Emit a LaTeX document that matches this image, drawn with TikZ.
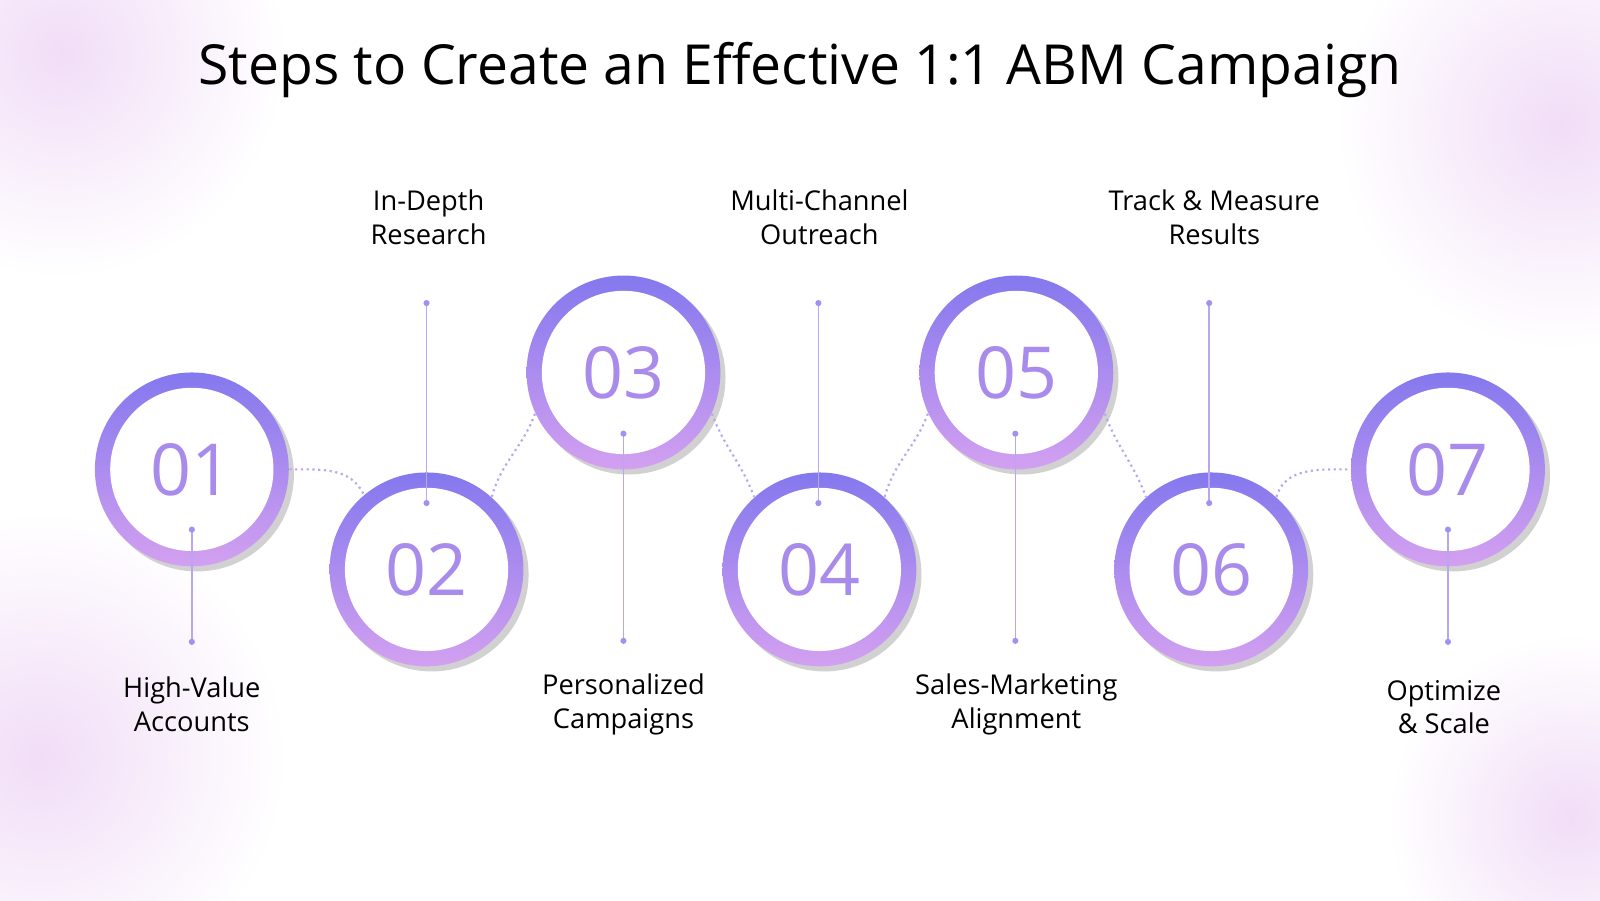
\documentclass[tikz,border=0pt]{standalone}
\usepackage{fontspec}
\setmainfont{Open Sans}
\usetikzlibrary{positioning}
\definecolor{ringtop}{HTML}{8478EE}
\definecolor{ringbot}{HTML}{D3A0F0}
\definecolor{numcol}{HTML}{A98BEB}
\definecolor{linecol}{HTML}{B9A6F2}
\definecolor{blob}{HTML}{F1DDF7}
\tikzset{
  label text/.style={align=center,font=\fontsize{7.6}{9.4}\selectfont},
  num/.style={circle,minimum size=1.9cm,inner sep=0pt,text=numcol,font=\fontsize{20}{20}\selectfont},
  stem/.style={linecol,line width=0.4pt},
  link/.style={linecol,densely dotted,line width=0.6pt}
}
\newcommand\ringat[3]{%
  \fill[black!18] (#1+0.05,#2-0.05) circle (0.95);
  \shade[top color=ringtop,bottom color=ringbot] (#1,#2) circle (0.95);
  \fill[white] (#1,#2) circle (0.8);
  \node[num] (#3) at (#1,#2) {#3};
}
\begin{document}
\begin{tikzpicture}
\useasboundingbox (0,0) rectangle (15.68,8.82);
\fill[white] (0,0) rectangle (15.68,8.82);
% soft background blobs
\shade[inner color=blob,outer color=white] (0.6,8.3) circle (2.2);
\shade[inner color=blob,outer color=white] (15.3,7.6) circle (2.2);
\shade[inner color=blob,outer color=white] (0.4,1.4) circle (2.4);
\shade[inner color=blob,outer color=white] (15.4,0.8) circle (1.8);

\node[font=\fontsize{15.4}{18}\selectfont] (title) at (7.84,8.13) {Steps to Create an Effective 1:1 ABM Campaign};

\ringat{1.88}{4.22}{01}
\ringat{4.18}{3.24}{02}
\ringat{6.11}{5.17}{03}
\ringat{8.03}{3.24}{04}
\ringat{9.96}{5.17}{05}
\ringat{11.87}{3.24}{06}
\ringat{14.19}{4.22}{07}

% dotted links between rings
\draw[link] (01.0) to[out=0,in=115] (02.130);
\draw[link] (02.48) to[out=75,in=-110] (03.205);
\draw[link] (03.-25) to[out=-70,in=110] (04.132);
\draw[link] (04.48) to[out=75,in=-110] (05.205);
\draw[link] (05.-25) to[out=-70,in=110] (06.132);
\draw[link] (06.48) to[out=75,in=180] (07.180);

% stems with end dots
\coordinate (s1a) at (1.88,3.63); \coordinate (s1b) at (1.88,2.53);
\coordinate (s2a) at (4.18,3.89); \coordinate (s2b) at (4.18,5.85);
\coordinate (s3a) at (6.11,4.57); \coordinate (s3b) at (6.11,2.54);
\coordinate (s4a) at (8.02,3.89); \coordinate (s4b) at (8.02,5.85);
\coordinate (s5a) at (9.95,4.57); \coordinate (s5b) at (9.95,2.54);
\coordinate (s6a) at (11.85,3.89); \coordinate (s6b) at (11.85,5.85);
\coordinate (s7a) at (14.19,3.63); \coordinate (s7b) at (14.19,2.53);
\foreach \i in {1,...,7}{
  \draw[stem] (s\i a) -- (s\i b);
  \fill[ringtop!80] (s\i a) circle (0.03) (s\i b) circle (0.03);
}

\node[label text] (t1) at (1.88,1.92) {High-Value\\Accounts};
\node[label text] (t2) at (4.20,6.69) {In-Depth\\Research};
\node[label text] (t3) at (6.11,1.92) {Personalized\\Campaigns};
\node[label text] (t4) at (8.03,6.69) {Multi-Channel\\Outreach};
\node[label text] (t5) at (9.96,1.92) {Sales-Marketing\\Alignment};
\node[label text] (t6) at (11.90,6.69) {Track \& Measure\\Results};
\node[label text] (t7) at (14.15,1.89) {Optimize\\\& Scale};
\end{tikzpicture}
\end{document}
